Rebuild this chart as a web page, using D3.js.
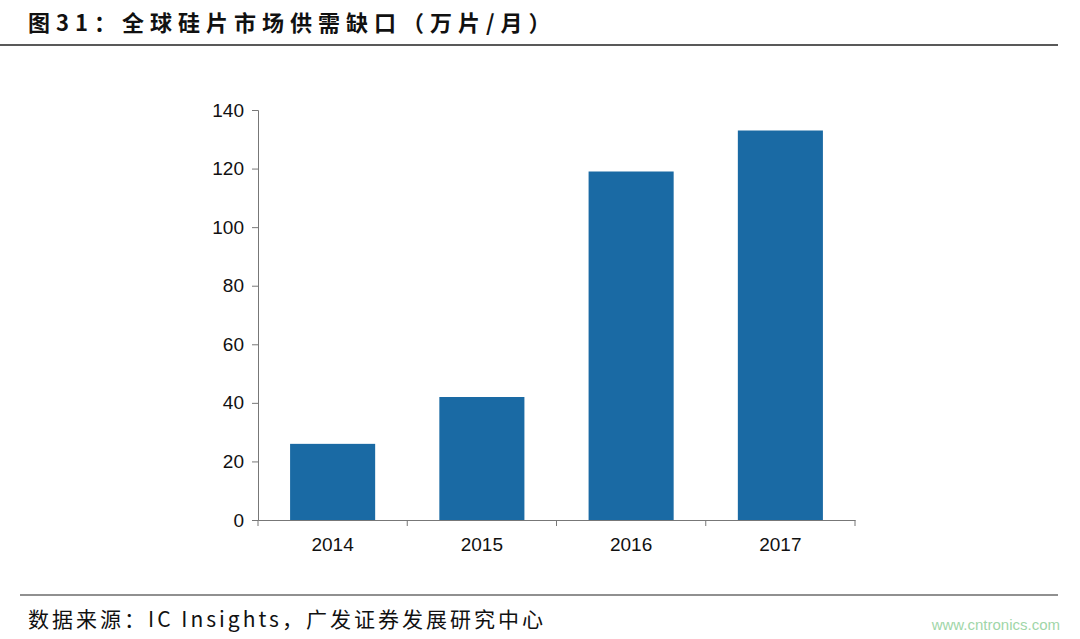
<!DOCTYPE html>
<html><head><meta charset="utf-8">
<script src="https://cdn.jsdelivr.net/npm/d3@7"></script>
<style>body{margin:0;background:#fff}</style>
</head><body><div id="chart"></div>
<script>
const years = ["2014", "2015", "2016", "2017"];
const gap = [26, 42, 119, 133];
const yTicks = [0, 20, 40, 60, 80, 100, 120, 140];

const svg = d3.select("#chart").append("svg").attr("width", 1080).attr("height", 639);
const cjk = "'Noto Sans CJK SC', sans-serif";

svg.append("text").attr("x", 28).attr("y", 31).attr("font-family", cjk)
  .attr("font-size", 22).attr("font-weight", "bold").attr("fill", "#111")
  .attr("letter-spacing", 6)
  .text("图31：全球硅片市场供需缺口（万片/月）");
svg.append("line").attr("x1", 0).attr("x2", 1058).attr("y1", 45).attr("y2", 45)
  .attr("stroke", "#222").attr("stroke-width", 1.5);

let x = d3.scaleBand().domain(years).range([258, 855]).paddingInner(0.43).paddingOuter(0.215);
let y = d3.scaleLinear().domain([0, 140]).range([520, 110]);

let g = svg.append("g");
g.selectAll("rect").data(years).join("rect")
  .attr("x", d => x(d)).attr("width", x.bandwidth())
  .attr("y", (d, i) => y(gap[i])).attr("height", (d, i) => 520 - y(gap[i]))
  .attr("fill", "#1a6aa4");

let ya = svg.append("g").attr("transform", "translate(258,0)")
  .call(d3.axisLeft(y).tickValues(yTicks).tickSize(6).tickPadding(8));
ya.selectAll("text").attr("font-family", "Arial, 'Liberation Sans'").attr("font-size", 19).attr("fill", "#111");
ya.selectAll("line,path").attr("stroke", "#777");

let xa = svg.append("g").attr("transform", "translate(0,520)")
  .call(d3.axisBottom(x).tickSize(0).tickPadding(18));
xa.select(".domain").attr("stroke", "#777");
xa.selectAll("text").attr("font-family", "Arial, 'Liberation Sans'").attr("font-size", 19).attr("fill", "#111");
// category separators
xa.selectAll(".sep").data(d3.range(5)).join("line")
  .attr("x1", i => 258 + i * (597 / 4)).attr("x2", i => 258 + i * (597 / 4))
  .attr("y1", 0).attr("y2", 6).attr("stroke", "#777");

svg.append("line").attr("x1", 20).attr("x2", 1058).attr("y1", 595).attr("y2", 595)
  .attr("stroke", "#222").attr("stroke-width", 1.2);
svg.append("text").attr("x", 28).attr("y", 627).attr("font-family", cjk)
  .attr("font-size", 21).attr("fill", "#111").attr("letter-spacing", 3)
  .text("数据来源：IC Insights，广发证券发展研究中心");
svg.append("text").attr("x", 1060).attr("y", 630).attr("text-anchor", "end")
  .attr("font-family", "Arial, 'Liberation Sans'").attr("font-size", 15).attr("fill", "#9fd6a8")
  .text("www.cntronics.com");
</script></body></html>
